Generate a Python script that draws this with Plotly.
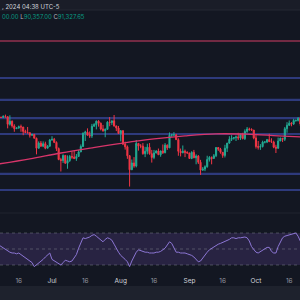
import plotly.graph_objects as go
import pandas as pd

# ---------------- data ----------------
dates = pd.date_range("2024-06-07", "2024-10-21", freq="D").strftime("%Y-%m-%d").tolist()

opens = [71.1, 69.3, 69.3, 69.6, 69.5, 67.3, 68.2, 66.8, 66.0, 66.2, 66.6, 66.5, 65.2, 64.9, 64.8, 64.1, 64.3, 63.2, 60.3, 61.8, 60.9, 61.6, 60.3, 60.9,
         62.7, 62.9, 62.0, 60.2, 57.0, 56.7, 58.2, 55.9, 56.7, 57.9, 57.7, 57.3, 57.9, 59.2, 60.8, 64.7, 65.0, 64.1, 63.9, 66.7, 67.2, 68.2, 67.6, 65.9, 65.4, 65.8, 67.9, 67.8, 68.3, 66.8, 66.2,
         64.6, 65.4, 61.5, 60.7, 58.1, 54.0, 56.0, 55.1, 61.7, 60.9, 60.9, 58.7, 59.4, 60.6, 58.7, 57.6, 58.9, 59.5, 58.4, 59.5, 59.0, 61.2, 60.4, 64.1, 64.2, 64.2, 62.8, 59.4, 59.0, 59.4, 59.1,
         58.9, 57.3, 59.1, 57.5, 58.0, 56.2, 53.9, 54.2, 54.9, 57.0, 57.6, 57.3, 58.1, 60.5, 60.0, 59.1, 58.2, 60.3, 61.8, 62.9, 63.2, 63.4, 63.6, 63.3, 64.3, 63.1, 65.2, 65.9, 65.8, 65.6,
         63.3, 60.8, 60.6, 60.8, 62.1, 62.1, 62.8, 62.2, 62.1, 60.6, 60.3, 62.4, 63.2, 62.9, 66.0, 67.0, 67.6, 67.4, 68.4, 68.4, 69.0]
highs = [71.9, 69.5, 69.9, 70.1, 69.6, 69.9, 68.4, 67.3, 66.4, 66.9, 67.2, 66.5, 65.7, 66.5, 65.0, 64.5, 64.5, 63.4, 62.3, 62.4, 62.3, 62.2, 61.2, 63.0,
         63.8, 63.3, 62.3, 60.5, 57.5, 58.5, 58.3, 58.2, 58.3, 59.4, 59.5, 58.6, 59.8, 61.4, 64.9, 65.4, 66.1, 65.2, 67.4, 67.6, 68.4, 68.5, 67.8, 67.1, 66.1, 68.2, 69.4, 68.3, 70.0, 66.9, 66.8,
         65.6, 65.6, 62.2, 61.1, 58.3, 57.0, 57.7, 62.7, 61.8, 61.5, 61.8, 60.7, 61.6, 61.8, 59.8, 59.8, 59.7, 60.2, 59.6, 61.4, 61.8, 61.4, 64.9, 64.5, 65.0, 64.5, 63.2, 60.2, 61.1, 59.9, 59.4,
         59.0, 59.4, 59.8, 58.5, 58.3, 56.9, 54.8, 55.3, 58.1, 58.0, 57.9, 58.6, 60.6, 60.6, 60.4, 59.2, 61.3, 61.7, 63.8, 64.1, 63.5, 64.0, 64.8, 64.6, 64.8, 65.8, 66.5, 66.3, 66.1, 65.6,
         64.1, 62.4, 61.5, 62.5, 62.4, 63.0, 64.5, 63.2, 62.5, 61.3, 63.4, 63.4, 63.3, 66.5, 67.9, 68.4, 67.9, 68.9, 68.7, 69.4, 69.5]
lows = [68.5, 69.1, 69.1, 69.2, 66.1, 66.9, 66.3, 65.1, 65.9, 66.0, 65.1, 64.1, 64.7, 64.6, 63.4, 63.9, 63.2, 58.5, 60.2, 60.7, 60.6, 60.0, 60.3, 60.7,
        62.5, 61.8, 59.5, 56.8, 53.5, 56.0, 55.8, 54.3, 56.3, 57.2, 57.1, 56.6, 57.8, 59.2, 60.7, 62.4, 64.0, 63.3, 63.3, 66.6, 65.8, 66.6, 65.5, 65.1, 63.5, 65.8, 66.7, 67.1, 66.6, 65.3, 64.5,
        62.3, 61.2, 59.9, 57.2, 49.1, 54.0, 54.6, 54.7, 59.6, 60.3, 58.4, 57.7, 58.5, 58.4, 56.1, 57.1, 58.8, 58.4, 57.8, 58.6, 58.8, 59.8, 60.4, 63.6, 63.8, 62.8, 58.1, 57.9, 58.8, 57.7, 58.7,
        57.2, 57.1, 57.4, 55.6, 55.7, 52.5, 53.7, 53.6, 54.6, 56.4, 55.6, 57.3, 57.7, 59.5, 58.7, 57.5, 57.6, 59.2, 61.6, 62.4, 62.8, 62.4, 62.7, 62.7, 62.9, 62.7, 64.8, 65.4, 65.4, 62.9,
        60.2, 59.9, 59.8, 60.5, 61.7, 61.8, 62.2, 61.9, 60.3, 58.9, 60.1, 62.4, 62.1, 62.4, 64.8, 66.8, 66.7, 67.1, 68.0, 68.1, 66.8]
closes = [69.3, 69.3, 69.6, 69.5, 67.3, 68.2, 66.8, 66.0, 66.2, 66.6, 66.5, 65.2, 64.9, 64.8, 64.1, 64.3, 63.2, 60.3, 61.8, 60.9, 61.6, 60.3, 60.9, 62.7,
          62.9, 62.0, 60.2, 57.0, 56.7, 58.2, 55.9, 56.7, 57.9, 57.7, 57.3, 57.9, 59.2, 60.8, 64.7, 65.0, 64.1, 63.9, 66.7, 67.2, 68.2, 67.6, 65.9, 65.4, 65.8, 67.9, 67.8, 68.3, 66.8, 66.2, 64.6,
          65.4, 61.5, 60.7, 58.1, 54.0, 56.0, 55.1, 61.7, 60.9, 60.9, 58.7, 59.4, 60.6, 58.7, 57.6, 58.9, 59.5, 58.4, 59.5, 59.0, 61.2, 60.4, 64.1, 64.2, 64.2, 62.8, 59.4, 59.0, 59.4, 59.1, 58.9,
          57.3, 59.1, 57.5, 58.0, 56.2, 53.9, 54.2, 54.9, 57.0, 57.6, 57.3, 58.1, 60.5, 60.0, 59.1, 58.2, 60.3, 61.8, 62.9, 63.2, 63.4, 63.6, 63.3, 64.3, 63.1, 65.2, 65.9, 65.8, 65.6, 63.3,
          60.8, 60.6, 60.8, 62.1, 62.1, 62.8, 62.2, 62.1, 60.6, 60.3, 62.4, 63.2, 62.9, 66.0, 67.0, 67.6, 67.4, 68.4, 68.4, 69.0, 67.4]

ma_dates = ["2024-06-07", "2024-06-21", "2024-07-05", "2024-07-19", "2024-08-02", "2024-08-16",
            "2024-08-30", "2024-09-13", "2024-09-27", "2024-10-11", "2024-10-21"]
ma_values = [55.7, 57.2, 58.9, 60.4, 61.8, 63.0, 63.9, 64.5, 64.4, 63.9, 63.6]

rsi_values = [55, 53, 52, 50, 48, 46, 45, 45, 44, 45, 43, 41, 39, 37, 36, 33, 28, 30, 32, 34,
              37, 40, 43, 45, 37, 35, 33, 32, 30, 33, 36, 35, 34, 35, 39, 43, 51, 58, 64, 63,
              64, 65, 67, 68, 66, 64, 61, 59, 62, 64, 63, 61, 56, 50, 46, 42, 40, 37, 34, 28,
              35, 41, 46, 49, 48, 47, 46, 46, 45, 45, 45, 46, 46, 47, 49, 51, 55, 59, 57, 51,
              46, 46, 45, 45, 45, 44, 43, 42, 40, 37, 34, 35, 39, 43, 46, 49, 51, 53, 55, 56,
              57, 58, 60, 61, 62, 64, 64, 63, 64, 64, 65, 65, 64, 60, 53, 49, 46, 45, 47, 49,
              51, 52, 52, 47, 45, 45, 53, 59, 64, 66, 67, 68, 69, 70, 70, 66, 60]

blue_levels = [80.8, 74.4, 69.1, 64.45, 52.8, 48.1]
red_levels = [91.6]
rsi_levels = [70, 50, 30]

tick_dates = ["2024-06-16", "2024-07-01", "2024-07-16", "2024-08-01", "2024-08-16",
              "2024-09-01", "2024-09-16", "2024-10-01", "2024-10-16"]
tick_labels = ["16", "Jul", "16", "Aug", "16", "Sep", "16", "Oct", "16"]

header_line1 = ", 2024 04:38 UTC-5"
header_o = "00.00"
header_l = "90,357.00"
header_c = "91,327.65"

# ---------------- layout helpers ----------------
H = 300.0
def py(px):
    return 1 - px / H

BG = "#131722"
UP = "#22ab94"
DN = "#f23645"

fig = go.Figure()

fig.add_trace(go.Candlestick(
    x=dates, open=opens, high=highs, low=lows, close=closes,
    increasing=dict(line=dict(color=UP, width=1), fillcolor=UP),
    decreasing=dict(line=dict(color=DN, width=1), fillcolor=DN),
    xaxis="x", yaxis="y", showlegend=False, hoverinfo="skip",
))
fig.add_trace(go.Scatter(
    x=ma_dates, y=ma_values, mode="lines", line=dict(color="#d8356a", width=1.3, shape="spline"),
    xaxis="x", yaxis="y", showlegend=False, hoverinfo="skip",
))
fig.add_trace(go.Scatter(
    x=dates, y=rsi_values, mode="lines", line=dict(color="#8c76d4", width=1),
    xaxis="x2", yaxis="y2", showlegend=False, hoverinfo="skip",
))

shapes = []
# header band and bottom strip
shapes.append(dict(type="rect", xref="paper", yref="paper", x0=0, x1=1, y0=py(10), y1=1,
                   fillcolor="#1a1d28", line=dict(width=0), layer="below"))
shapes.append(dict(type="line", xref="paper", yref="paper", x0=0, x1=1, y0=py(10), y1=py(10),
                   line=dict(color="#242833", width=1)))
shapes.append(dict(type="rect", xref="paper", yref="paper", x0=0, x1=1, y0=0, y1=py(286),
                   fillcolor="#1e222d", line=dict(width=0), layer="below"))
# pane separator
shapes.append(dict(type="line", xref="paper", yref="paper", x0=0, x1=1, y0=py(213), y1=py(213),
                   line=dict(color="#20242f", width=1)))
for lv in blue_levels:
    shapes.append(dict(type="line", xref="paper", yref="y", x0=0, x1=1, y0=lv, y1=lv,
                       line=dict(color="#2e3a7c", width=2.2), layer="below"))
for lv in red_levels:
    shapes.append(dict(type="line", xref="paper", yref="y", x0=0, x1=1, y0=lv, y1=lv,
                       line=dict(color="#722a43", width=2), layer="below"))
# RSI band
shapes.append(dict(type="rect", xref="paper", yref="y2", x0=0, x1=1, y0=rsi_levels[2], y1=rsi_levels[0],
                   fillcolor="rgba(126,87,194,0.2)", line=dict(width=0), layer="below"))
for lv in rsi_levels:
    shapes.append(dict(type="line", xref="paper", yref="y2", x0=0, x1=1, y0=lv, y1=lv,
                       line=dict(color="rgba(140,143,154,0.55)", width=0.8, dash="3px,3px"), layer="below"))

annotations = [
    dict(xref="paper", yref="paper", x=0, y=py(6), xanchor="left", yanchor="middle",
         text=header_line1, showarrow=False, font=dict(family="Inter", size=6, color="#d1d4dc")),
    dict(xref="paper", yref="paper", x=0, y=py(17), xanchor="left", yanchor="middle",
         text=(f"<span style='color:#089981'>{header_o}</span> "
               f"<span style='color:#b2b5be'>L</span><span style='color:#089981'>{header_l}</span> "
               f"<span style='color:#b2b5be'>C</span><span style='color:#089981'>{header_c}</span>"),
         showarrow=False, font=dict(family="Inter", size=6, color="#089981")),
]

x_range = ["2024-06-07 13:00", "2024-10-20 20:40"]

ticktext = [f"<span style='color:#d1d4dc'>{t}</span>" if not t.isdigit() else t for t in tick_labels]

fig.update_layout(
    width=300, height=300,
    margin=dict(l=0, r=0, t=0, b=0),
    paper_bgcolor=BG, plot_bgcolor=BG,
    showlegend=False,
    shapes=shapes, annotations=annotations,
    xaxis=dict(domain=[0, 1], range=x_range, type="date", anchor="y",
               showticklabels=False, showgrid=False, zeroline=False, rangeslider=dict(visible=False),
               matches="x2"),
    yaxis=dict(domain=[py(213), py(10)], range=[41.38, 100.66], showticklabels=False,
               showgrid=False, zeroline=False, anchor="x"),
    xaxis2=dict(domain=[0, 1], range=x_range, type="date", anchor="y2",
                tickmode="array", tickvals=tick_dates, ticktext=ticktext,
                tickfont=dict(family="Inter", size=6.5, color="#9598a1"),
                ticks="", showgrid=False, zeroline=False, showline=False, ticklabelstandoff=3),
    yaxis2=dict(domain=[py(272), py(213)], range=[21.25, 95], showticklabels=False,
                showgrid=False, zeroline=False, anchor="x2"),
)

fig.write_html("out.html")
